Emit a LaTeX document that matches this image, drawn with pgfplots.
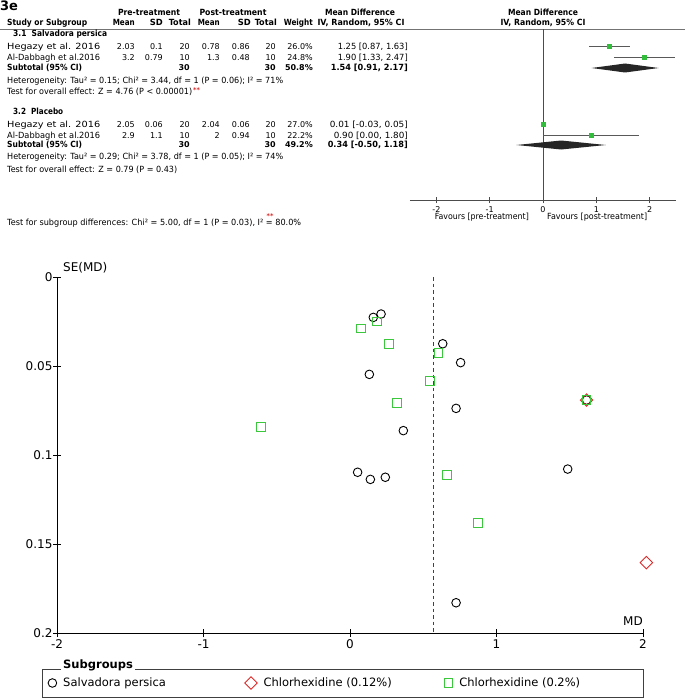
\documentclass[border=0pt]{standalone}
\usepackage{pgfplots}
\pgfplotsset{compat=1.18}
\usepackage{fontspec}
\setmainfont{DejaVu Sans}
\usepackage{graphicx}
\definecolor{mkgreen}{RGB}{60,200,60}
\definecolor{mkred}{RGB}{220,40,40}
\definecolor{mkblue}{RGB}{45,45,230}
\definecolor{fgreen}{RGB}{50,190,60}
\newcommand\W[2]{\resizebox{#1pt}{\height}{#2}}
\newcommand\fs[1]{\fontsize{#1}{#1}\selectfont}
\newcommand\B{\bfseries}

\pgfplotstableread{
md se
0.212 0.0208
0.159 0.0227
0.633 0.0375
0.755 0.0481
0.132 0.0547
0.724 0.0738
0.364 0.0863
1.615 0.0691
0.052 0.1097
0.139 0.1137
0.241 0.1125
1.486 0.1079
0.724 0.1830
}\salvadora
\pgfplotstableread{
md se
1.615 0.0691
2.023 0.1605
}\chlorA
\pgfplotstableread{
md se
0.182 0.0249
0.073 0.0290
0.264 0.0375
0.603 0.0427
0.544 0.0583
0.321 0.0708
1.615 0.0691
-0.608 0.0841
0.660 0.1112
0.872 0.1382
}\chlorB

\begin{document}
\begin{tikzpicture}
\useasboundingbox (0pt,0pt) rectangle (685pt,-698pt);
\begin{scope}[x=1pt,y=-1pt, every node/.style={inner sep=0pt, font=\fs{8.5}}]
 \node[anchor=mid west] at (0,7.5) {\fs{13}\B 3e};
 % header row 1
 \node[anchor=mid] at (149,13) {\W{62}{\B Pre-treatment}};
 \node[anchor=mid] at (233,13) {\W{67}{\B Post-treatment}};
 \node[anchor=mid] at (360,13) {\W{70}{\B Mean Difference}};
 \node[anchor=mid] at (543,13) {\W{70}{\B Mean Difference}};
 % header row 2
 \node[anchor=mid west] at (7,23) {\W{80}{\B Study or Subgroup}};
 \node[anchor=mid east] at (135,23) {\W{22}{\B Mean}};
 \node[anchor=mid east] at (163,23) {\W{13}{\B SD}};
 \node[anchor=mid east] at (191,23) {\W{22}{\B Total}};
 \node[anchor=mid east] at (220,23) {\W{22}{\B Mean}};
 \node[anchor=mid east] at (251,23) {\W{13}{\B SD}};
 \node[anchor=mid east] at (277,23) {\W{22}{\B Total}};
 \node[anchor=mid east] at (313,23) {\W{29}{\B Weight}};
 \node[anchor=mid] at (361,23) {\W{87}{\B IV, Random, 95\% CI}};
 \node[anchor=mid] at (543,23) {\W{85}{\B IV, Random, 95\% CI}};
 \draw[line width=0.7pt, black!55] (0,29.5) -- (685,29.5);
 % group 1
 \node[anchor=mid west] at (13,34) {\W{94}{\B 3.1\ \ Salvadora persica}};
 \node[anchor=mid west] at (7,47) {\W{93}{Hegazy et al. 2016}};
 \node[anchor=mid east] at (135,47) {\fs{8}2.03};
 \node[anchor=mid east] at (163,47) {\fs{8}0.1};
 \node[anchor=mid east] at (190,47) {\fs{8}20};
 \node[anchor=mid east] at (220,47) {\fs{8}0.78};
 \node[anchor=mid east] at (250,47) {\fs{8}0.86};
 \node[anchor=mid east] at (276,47) {\fs{8}20};
 \node[anchor=mid east] at (313,47) {\fs{8}26.0\%};
 \node[anchor=mid east] at (408,47) {\W{70}{1.25 [0.87, 1.63]}};
 \node[anchor=mid west] at (7,58) {\W{93}{Al-Dabbagh et al.2016}};
 \node[anchor=mid east] at (135,58) {\fs{8}3.2};
 \node[anchor=mid east] at (163,58) {\fs{8}0.79};
 \node[anchor=mid east] at (190,58) {\fs{8}10};
 \node[anchor=mid east] at (220,58) {\fs{8}1.3};
 \node[anchor=mid east] at (250,58) {\fs{8}0.48};
 \node[anchor=mid east] at (276,58) {\fs{8}10};
 \node[anchor=mid east] at (313,58) {\fs{8}24.8\%};
 \node[anchor=mid east] at (408,58) {\W{70}{1.90 [1.33, 2.47]}};
 \node[anchor=mid west] at (7,68) {\W{75}{\B Subtotal (95\% CI)}};
 \node[anchor=mid east] at (190,68) {\fs{8}\B 30};
 \node[anchor=mid east] at (276,68) {\fs{8}\B 30};
 \node[anchor=mid east] at (313,68) {\fs{8}\B 50.8\%};
 \node[anchor=mid east] at (408,68) {\W{77}{\B 1.54 [0.91, 2.17]}};
 \node[anchor=mid west] at (7,81) {\W{276}{Heterogeneity: Tau² = 0.15; Chi² = 3.44, df = 1 (P = 0.06); I² = 71\%}};
 \node[anchor=mid west] at (7,92) {\W{185}{Test for overall effect: Z = 4.76 (P < 0.00001)}};
 \node[anchor=mid west, text=mkred] at (193,89.5) {\fs{6.5}\B **};
 % group 2
 \node[anchor=mid west] at (13,112) {\W{50}{\B 3.2\ \ Placebo}};
 \node[anchor=mid west] at (7,125) {\W{93}{Hegazy et al. 2016}};
 \node[anchor=mid east] at (135,125) {\fs{8}2.05};
 \node[anchor=mid east] at (163,125) {\fs{8}0.06};
 \node[anchor=mid east] at (190,125) {\fs{8}20};
 \node[anchor=mid east] at (220,125) {\fs{8}2.04};
 \node[anchor=mid east] at (250,125) {\fs{8}0.06};
 \node[anchor=mid east] at (276,125) {\fs{8}20};
 \node[anchor=mid east] at (313,125) {\fs{8}27.0\%};
 \node[anchor=mid east] at (408,125) {\W{78}{0.01 [-0.03, 0.05]}};
 \node[anchor=mid west] at (7,136) {\W{93}{Al-Dabbagh et al.2016}};
 \node[anchor=mid east] at (135,136) {\fs{8}2.9};
 \node[anchor=mid east] at (163,136) {\fs{8}1.1};
 \node[anchor=mid east] at (190,136) {\fs{8}10};
 \node[anchor=mid east] at (220,136) {\fs{8}2};
 \node[anchor=mid east] at (250,136) {\fs{8}0.94};
 \node[anchor=mid east] at (276,136) {\fs{8}10};
 \node[anchor=mid east] at (313,136) {\fs{8}22.2\%};
 \node[anchor=mid east] at (408,136) {\W{74}{0.90 [0.00, 1.80]}};
 \node[anchor=mid west] at (7,145) {\W{75}{\B Subtotal (95\% CI)}};
 \node[anchor=mid east] at (190,145) {\fs{8}\B 30};
 \node[anchor=mid east] at (276,145) {\fs{8}\B 30};
 \node[anchor=mid east] at (313,145) {\fs{8}\B 49.2\%};
 \node[anchor=mid east] at (408,145) {\W{80}{\B 0.34 [-0.50, 1.18]}};
 \node[anchor=mid west] at (7,157) {\W{276}{Heterogeneity: Tau² = 0.29; Chi² = 3.78, df = 1 (P = 0.05); I² = 74\%}};
 \node[anchor=mid west] at (7,170) {\W{170}{Test for overall effect: Z = 0.79 (P = 0.43)}};
 \node[anchor=mid west] at (7,223) {\W{294}{Test for subgroup differences: Chi² = 5.00, df = 1 (P = 0.03), I² = 80.0\%}};
 \node[anchor=mid, text=mkred] at (270,216) {\fs{6.5}\B **};
 % forest labels
 \node[anchor=mid east] at (529,217) {\W{94}{Favours [pre-treatment]}};
 \node[anchor=mid west] at (547,217) {\W{100}{Favours [post-treatment]}};
 % funnel labels
 \node[anchor=mid west] at (63,269) {\fs{12}SE(MD)};
 \node[anchor=mid east] at (643,623) {\fs{12}MD};
 % legend frame
 \draw[line width=0.8pt, black!75] (42,669) rectangle (643,697);
 \node[anchor=mid west, fill=white, inner xsep=2pt] at (61,666) {\fs{11.5}\B Subgroups};
\end{scope}

% forest plot
\begin{axis}[
  at={(543pt,-114.5pt)}, anchor=center,
  scale only axis, width=266.5pt, height=171pt,
  xmin=-2.5, xmax=2.5, ymin=-200, ymax=-29,
  axis x line*=bottom, axis y line=none,
  axis line style={line width=0.6pt, black!70},
  tick align=center, major tick length=6pt,
  tick style={line width=0.6pt, black!70},
  xtick={-2,-1,0,1,2}, xticklabels={-2,-1,0,1,2},
  xticklabel style={font=\fs{8}},
  clip=false,
]
\addplot[line width=0.6pt, black!70] coordinates {(0,-29.5) (0,-200)};
\addplot[only marks, mark=square*, mark size=2pt, color=fgreen,
  error bars/.cd, x dir=both, x explicit, error mark=none,
  error bar style={line width=0.6pt, black!65}]
  coordinates {(1.25,-46.5) +- (0.38,0) (1.90,-57.5) +- (0.57,0)
               (0.01,-124) +- (0.04,0) (0.90,-135) +- (0.90,0)};
\addplot[fill=black!85, draw=none] coordinates {(0.91,-68) (1.54,-63.5) (2.17,-68) (1.54,-72.5)} -- cycle;
\addplot[fill=black!85, draw=none] coordinates {(-0.50,-145) (0.34,-140.5) (1.18,-145) (0.34,-149.5)} -- cycle;
\end{axis}

% funnel plot
\begin{axis}[
  at={(350pt,-455pt)}, anchor=center,
  scale only axis, width=586pt, height=356pt,
  xmin=-2, xmax=2, ymin=0, ymax=0.2, y dir=reverse,
  axis x line*=bottom, axis y line*=left,
  axis line style={line width=0.9pt, black},
  tick align=center, major tick length=8pt,
  tick style={line width=0.9pt, black},
  xtick={-2,-1,0,1,2}, xticklabels={-2,-1,0,1,2},
  ytick={0,0.05,0.1,0.15,0.2}, yticklabels={0,0.05,0.1,0.15,0.2},
  tick label style={font=\fs{12}},
  yticklabel style={xshift=3pt},
  xticklabel style={yshift=1pt},
  clip=false,
  legend columns=3, legend cell align=left,
  legend style={at={(axis description cs:-0.0155,-0.1404)}, anchor=west,
    draw=none, fill=none, font=\fs{11.5}, inner xsep=0pt, inner ysep=0pt,
    nodes={inner sep=1.5pt}},
]
\addplot[color=mkblue, line width=1.1pt, dash pattern=on 3.5pt off 3pt, forget plot] coordinates {(0.569,0) (0.569,0.2)};
\addplot[only marks, mark=o, mark size=4.3pt, black, line width=0.9pt] table[x=md,y=se] {\salvadora};
\addlegendentry{\hspace{5pt}\makebox[180pt][l]{Salvadora persica}}
\addplot[only marks, mark=square, mark size=4.4pt, mark options={rotate=45}, mkred, line width=0.9pt] table[x=md,y=se] {\chlorA};
\addlegendentry{\hspace{5pt}\makebox[179pt][l]{Chlorhexidine (0.12\%)}}
\addplot[only marks, mark=square, mark size=4.3pt, mkgreen, line width=0.9pt] table[x=md,y=se] {\chlorB};
\addlegendentry{\hspace{5pt}Chlorhexidine (0.2\%)}
\end{axis}
\end{tikzpicture}
\end{document}
